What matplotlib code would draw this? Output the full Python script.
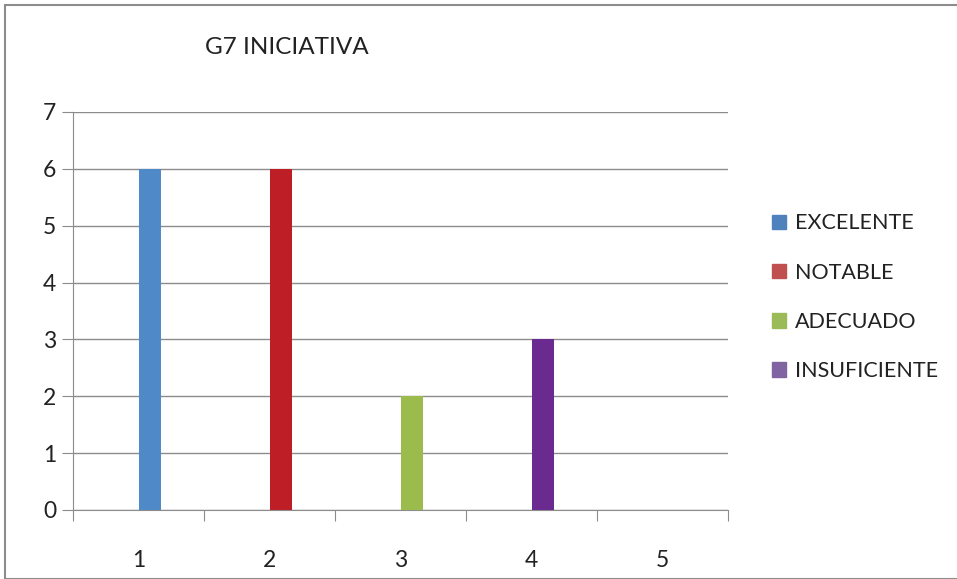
import matplotlib.pyplot as plt
from matplotlib.patches import Patch, Rectangle

categories = ["1", "2", "3", "4", "5"]
series_names = ["EXCELENTE", "NOTABLE", "ADECUADO", "INSUFICIENTE"]
excelente = [6, 0, 0, 0, 0]
notable = [0, 6, 0, 0, 0]
adecuado = [0, 0, 2, 0, 0]
insuficiente = [0, 0, 0, 3, 0]

bar_colors = ["#4F89C8", "#BE1E25", "#9BBB4C", "#6B2A8F"]
legend_colors = ["#4F81BD", "#C0504D", "#9BBB59", "#8064A2"]

plt.rcParams['font.family'] = ['Lato', 'DejaVu Sans']

fig = plt.figure(figsize=(9.57, 5.79), dpi=100)
fig.patches.append(Rectangle((5 / 957, 0), 1, 1 - 5 / 579, transform=fig.transFigure,
                             fill=False, edgecolor="#8C8C8C", linewidth=1.5))

ax = fig.add_axes([73 / 957, 69 / 579, 655 / 957, 398 / 579])

x = list(range(len(categories)))
offset = 0.09
width = 0.17
for vals, col in zip([excelente, notable, adecuado, insuficiente], bar_colors):
    ax.bar([i + offset for i in x], vals, width=width, color=col, zorder=3)

ax.set_xlim(-0.5, len(categories) - 0.5)
ax.set_ylim(0, 7)
ax.set_yticks(range(0, 8))
ax.yaxis.grid(True, color="#8C8C8C", linewidth=1)
ax.set_axisbelow(True)

ax.set_xticks([i - 0.5 for i in range(len(categories) + 1)])
ax.set_xticklabels([])
ax.set_xticks(x, minor=True)
ax.set_xticklabels(categories, minor=True)
ax.tick_params(axis="x", which="major", length=8, color="#8C8C8C")
ax.tick_params(axis="x", which="minor", length=0, pad=29, labelsize=16.5, labelcolor="#222222")
ax.tick_params(axis="y", length=8, color="#8C8C8C", labelsize=16.5, labelcolor="#222222", pad=4)

for s in ["top", "right"]:
    ax.spines[s].set_visible(False)
for s in ["left", "bottom"]:
    ax.spines[s].set_color("#8C8C8C")

fig.text(287 / 957, 1 - 47 / 579, "G7 INICIATIVA", ha="center", va="center",
         fontsize=17.5, color="#222222")

handles = [Patch(color=c) for c in legend_colors]
fig.legend(handles, series_names, loc="upper left", bbox_to_anchor=(753 / 957, 1 - 194 / 579),
           frameon=False, fontsize=15.5, handlelength=0.65, handleheight=0.65,
           handletextpad=0.4, labelspacing=1.36, labelcolor="#222222")

plt.savefig("out.png", dpi=100)
